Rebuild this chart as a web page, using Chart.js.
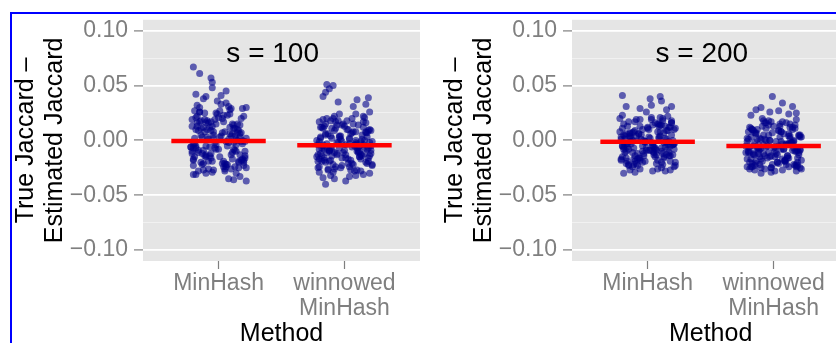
<!DOCTYPE html>
<html><head><meta charset="utf-8">
<script src="https://cdn.jsdelivr.net/npm/chart.js@4"></script>
<style>
html,body{margin:0;padding:0;background:#fff;width:836px;height:343px;overflow:hidden;position:relative}
canvas{position:absolute;top:0}
#c1{left:0}
#c2{left:420px}
#frame{position:absolute;left:10px;top:12px;width:900px;height:400px;border:2px solid #0000ff;box-sizing:border-box;pointer-events:none}
</style></head><body>
<canvas id="c1" width="420" height="343"></canvas>
<canvas id="c2" width="416" height="343"></canvas>
<div id="frame"></div>
<script>
// ---------- data ----------
const categories = [['MinHash'], ['winnowed', 'MinHash']];
const panelTitles = ['s = 100', 's = 200'];
const yAxisTitle = ['True Jaccard \u2013', 'Estimated Jaccard'];
const xAxisTitle = 'Method';
const yMajorTicks = [0.10, 0.05, 0.00, -0.05, -0.10];
const yMajorLabels = ['0.10', '0.05', '0.00', '\u22120.05', '\u22120.10'];
const yMinorTicks = [0.075, 0.025, -0.025, -0.075];

// medians (red bars) per panel: [MinHash, winnowed MinHash]
const medians100 = [-0.0005, -0.0045];
const medians200 = [-0.0013, -0.0050];

// s = 100, MinHash
const mh100Jitter = [-0.20,-0.15,-0.06,-0.05,-0.05,0.06,-0.18,-0.10,0.02,-0.12,
 0.22,0.12,0.08,0.17,-0.18,-0.10,0.14,-0.05,-0.20,0.05,
 -0.17,0.09,-0.02,0.20,-0.11,0.04,0.15,-0.21,0.12,-0.06,
 0.18,-0.14,0.01,-0.08,0.21,-0.19,0.07,-0.03,0.13,-0.16,
 0.10,-0.10,0.19,-0.05,0.03,-0.20,0.16,-0.12,0.06,0.22,
 -0.15,0.00,-0.09,0.17,-0.18,0.11,-0.04,0.08,-0.22,0.14,
 -0.07,0.20,-0.13,0.05,-0.01,0.18,-0.17,0.09,-0.11,0.02,
 0.15,-0.20,0.12,-0.06,0.21,-0.14,0.04,-0.19,0.07,-0.02,
 0.16,-0.09,0.19,-0.16,0.01,-0.12,0.10,-0.21,0.13,-0.04,
 0.06,-0.18,0.17,-0.08,0.22,-0.15,0.03,-0.10,0.11,-0.20,
 0.08,-0.05,0.14,-0.13,0.20,-0.01,-0.17,0.05,-0.07,0.18,
 -0.11,0.12,-0.19,0.00,0.16,-0.14,0.09,-0.03,0.21,-0.16,
 0.02,-0.08,0.13,-0.21,0.07,-0.12,0.19,-0.06,0.10,-0.18,
 0.15,-0.02,0.04,-0.15,0.17,-0.10,0.11,-0.20,0.06,-0.04,
 0.19,-0.07,0.14,-0.20,0.03,-0.13,0.21,-0.04,0.09,-0.16,
 0.12,-0.19,0.06,-0.10,0.17,-0.02,0.20,-0.15,0.08,-0.21,
 -0.03,0.15,-0.18,0.11,-0.08,0.04,-0.14,0.18,-0.11,0.13,
 0.01,-0.17,0.10,-0.22,0.16,-0.06,0.22,-0.12,0.05,-0.09];
const mh100Y = [0.067,0.061,0.057,0.053,0.048,0.045,0.042,0.040,0.041,0.038,
 -0.037,-0.036,-0.035,-0.033,-0.031,-0.030,-0.030,-0.029,-0.031,-0.028,
 0.032,0.028,0.025,0.022,0.019,0.017,0.015,0.013,0.011,0.009,
 0.007,0.005,0.003,0.001,-0.001,-0.003,-0.005,-0.007,-0.009,-0.011,
 -0.013,-0.015,-0.017,-0.019,-0.021,-0.023,-0.025,-0.027,0.034,0.030,
 0.026,0.021,0.018,0.014,0.010,0.006,0.002,-0.002,-0.006,-0.010,
 -0.014,-0.018,-0.022,-0.026,0.024,0.020,0.016,0.012,0.008,0.004,
 0.000,-0.004,-0.008,-0.012,-0.016,-0.020,-0.024,0.027,0.023,0.015,
 0.009,0.003,-0.003,-0.009,-0.015,-0.021,0.029,0.019,0.011,0.005,
 -0.001,-0.007,-0.013,-0.019,-0.025,0.017,0.007,-0.005,-0.011,-0.017,
 0.031,0.013,0.001,-0.012,-0.023,0.036,0.022,0.008,-0.006,-0.018,
 0.025,0.014,0.002,-0.008,-0.020,0.018,0.006,-0.002,-0.014,-0.028,
 0.033,0.016,0.004,-0.010,-0.022,0.012,0.000,-0.016,-0.026,0.021,
 0.010,-0.004,-0.019,0.026,0.003,-0.013,0.015,-0.007,-0.024,0.008,
 0.029,0.012,-0.004,-0.018,0.020,0.003,-0.010,-0.027,0.024,0.009,
 -0.002,-0.015,-0.022,0.016,0.006,-0.008,-0.020,0.030,0.001,-0.012,
 0.019,0.007,-0.005,-0.017,-0.026,0.023,0.011,-0.001,-0.014,-0.024,
 0.027,0.013,0.004,-0.006,-0.019,0.017,0.002,-0.009,-0.021,0.010];

// s = 100, winnowed MinHash
const wm100Jitter = [-0.14,-0.09,-0.12,-0.15,-0.17,0.19,-0.05,0.17,0.10,0.07,
 -0.15,0.01,-0.17,-0.11,-0.08,0.15,0.20,0.09,-0.20,0.04,
 -0.04,0.06,-0.20,0.11,-0.10,0.17,-0.15,0.04,-0.02,0.15,
 -0.18,0.10,-0.06,0.19,-0.12,0.07,-0.21,0.13,-0.08,0.02,
 -0.16,0.21,-0.03,0.09,-0.14,0.16,0.00,-0.19,0.12,-0.11,
 0.18,-0.07,0.05,-0.17,-0.01,0.20,-0.13,0.14,-0.05,0.08,
 -0.20,0.11,-0.10,0.03,-0.15,0.22,-0.08,0.17,-0.18,0.06,
 -0.04,0.13,-0.21,0.10,-0.12,0.01,-0.16,0.19,-0.09,0.16,
 -0.02,0.07,-0.19,0.04,-0.14,0.21,-0.06,0.12,-0.20,0.15,
 0.02,-0.11,0.09,-0.17,0.18,-0.01,0.05,-0.13,0.20,-0.07,
 0.14,-0.22,0.08,-0.04,0.11,-0.18,0.17,-0.09,0.00,-0.15,
 0.22,0.06,-0.12,0.16,-0.20,0.03,-0.05,0.19,-0.10,0.10,
 -0.16,0.13,-0.03,0.07,-0.19,0.21,-0.08,0.01,-0.14,0.18,
 -0.06,0.12,-0.21,0.15,0.04,-0.11,0.20,-0.02,0.09,-0.17,
 -0.09,0.05,-0.12,0.22,-0.06,0.16,-0.22,0.10,-0.17,0.01,
 0.13,-0.11,0.18,-0.14,0.04,-0.08,0.11,-0.18,0.15,-0.03,
 -0.21,0.08,-0.15,0.20,-0.02,0.17,-0.10,0.06,-0.19,0.12,
 -0.16,0.09,-0.04,0.21,-0.13,0.03,-0.20,0.14,-0.07,0.19];
const wm100Y = [0.051,0.050,0.047,0.044,0.040,0.039,0.035,0.033,0.037,0.031,
 -0.040,-0.037,-0.034,-0.032,-0.035,-0.031,-0.030,-0.032,-0.029,-0.033,
 0.024,0.020,0.017,0.014,0.011,0.008,0.005,0.002,-0.001,-0.004,
 -0.007,-0.010,-0.013,-0.016,-0.019,-0.022,-0.025,-0.028,0.022,0.018,
 0.013,0.009,0.004,0.000,-0.003,-0.006,-0.009,-0.012,-0.015,-0.018,
 -0.021,-0.024,-0.027,0.019,0.015,0.010,0.006,0.001,-0.002,-0.005,
 -0.008,-0.011,-0.014,-0.017,-0.020,-0.023,-0.026,0.016,0.012,0.007,
 0.003,-0.001,-0.004,-0.007,-0.010,-0.013,-0.016,-0.019,-0.022,0.021,
 0.014,0.008,0.002,-0.003,-0.006,-0.009,-0.012,-0.015,-0.024,0.017,
 0.010,0.004,-0.002,-0.005,-0.008,-0.011,-0.018,-0.027,0.026,0.011,
 0.005,0.000,-0.004,-0.007,-0.010,-0.014,-0.020,-0.029,0.013,0.006,
 -0.001,-0.006,-0.009,-0.012,-0.017,-0.021,0.018,0.009,0.002,-0.003,
 -0.008,-0.013,-0.025,0.015,0.003,-0.005,-0.011,-0.016,0.020,0.007,
 -0.002,-0.010,-0.019,0.012,0.001,-0.007,-0.014,-0.023,0.008,-0.004,
 0.020,0.006,-0.009,-0.022,0.014,0.000,-0.015,-0.027,0.011,-0.004,
 -0.017,0.018,0.003,-0.011,-0.024,0.009,-0.006,-0.019,0.022,0.001,
 -0.013,-0.028,0.015,-0.002,-0.016,0.007,-0.008,-0.021,0.012,-0.005,
 -0.018,0.024,0.004,-0.012,-0.026,0.010,-0.001,-0.014,0.017,-0.007];

// s = 200, MinHash
const mh200Jitter = [-0.20,0.10,0.02,0.11,-0.17,0.19,0.03,-0.06,-0.01,0.15,
 -0.19,0.04,0.18,-0.06,-0.10,0.11,-0.14,0.08,0.21,0.14,
 0.16,-0.09,0.19,-0.16,0.01,-0.12,0.10,-0.21,0.13,-0.04,
 0.06,-0.18,0.17,-0.08,0.22,-0.15,0.03,-0.10,0.11,-0.20,
 0.08,-0.05,0.14,-0.13,0.20,-0.01,-0.17,0.05,-0.07,0.18,
 -0.11,0.12,-0.19,0.00,0.16,-0.14,0.09,-0.03,0.21,-0.16,
 0.02,-0.08,0.13,-0.21,0.07,-0.12,0.19,-0.06,0.10,-0.18,
 0.15,-0.02,0.04,-0.15,0.17,-0.10,0.11,-0.20,0.06,-0.04,
 -0.17,0.09,-0.02,0.20,-0.11,0.04,0.15,-0.21,0.12,-0.06,
 0.18,-0.14,0.01,-0.08,0.21,-0.19,0.07,-0.03,0.13,-0.16,
 0.10,-0.10,0.19,-0.05,0.03,-0.20,0.16,-0.12,0.06,0.22,
 -0.15,0.00,-0.09,0.17,-0.18,0.11,-0.04,0.08,-0.22,0.14,
 -0.07,0.20,-0.13,0.05,-0.01,0.18,-0.17,0.09,-0.11,0.02,
 0.15,-0.20,0.12,-0.06,0.21,-0.14,0.04,-0.19,0.07,-0.02,
 0.12,-0.19,0.06,-0.10,0.17,-0.02,0.20,-0.15,0.08,-0.21,
 0.01,-0.17,0.10,-0.22,0.16,-0.06,0.22,-0.12,0.05,-0.09,
 0.19,-0.07,0.14,-0.20,0.03,-0.13,0.21,-0.04,0.09,-0.16,
 -0.03,0.15,-0.18,0.11,-0.08,0.04,-0.14,0.18,-0.11,0.13];
const mh200Y = [0.041,0.040,0.038,0.036,0.031,0.031,0.032,0.029,0.026,0.028,
 -0.030,-0.028,-0.027,-0.026,-0.029,-0.025,-0.027,-0.026,-0.024,-0.028,
 0.022,0.019,0.016,0.013,0.010,0.007,0.004,0.001,-0.002,-0.005,
 -0.008,-0.011,-0.014,-0.017,-0.020,-0.023,0.021,0.017,0.014,0.011,
 0.008,0.005,0.002,-0.001,-0.004,-0.007,-0.010,-0.013,-0.016,-0.019,
 -0.022,0.020,0.015,0.012,0.009,0.006,0.003,0.000,-0.003,-0.006,
 -0.009,-0.012,-0.015,-0.018,-0.021,-0.024,0.018,0.013,0.008,0.004,
 0.001,-0.002,-0.005,-0.008,-0.011,-0.014,-0.020,0.023,0.016,0.010,
 0.006,0.002,-0.001,-0.004,-0.007,-0.010,-0.013,-0.017,-0.022,0.019,
 0.012,0.007,0.003,0.000,-0.003,-0.006,-0.009,-0.012,-0.016,-0.019,
 0.014,0.009,0.005,0.001,-0.002,-0.005,-0.008,-0.011,-0.015,-0.023,
 0.017,0.011,0.004,-0.001,-0.004,-0.007,-0.010,-0.018,0.020,0.013,
 0.006,0.000,-0.003,-0.006,-0.009,-0.014,-0.021,0.015,0.008,0.002,
 -0.002,-0.005,-0.012,-0.016,0.010,0.003,-0.004,-0.008,-0.013,-0.019,
 0.018,0.005,-0.007,-0.019,0.012,-0.001,-0.013,-0.022,0.015,0.003,
 -0.009,-0.016,0.021,0.008,-0.004,-0.018,0.011,0.000,-0.011,-0.021,
 0.016,0.006,-0.006,-0.015,0.019,0.002,-0.008,-0.020,0.013,-0.003,
 -0.014,0.009,0.001,-0.010,-0.023,0.014,0.004,-0.005,-0.017,0.007];

// s = 200, winnowed MinHash
const wm200Jitter = [-0.01,0.07,0.15,-0.03,-0.14,0.18,-0.10,0.12,0.04,-0.18,
 0.18,-0.10,0.07,-0.19,-0.02,0.21,-0.15,0.12,0.01,-0.07,
 0.18,-0.07,0.05,-0.17,-0.01,0.20,-0.13,0.14,-0.05,0.08,
 -0.20,0.11,-0.10,0.03,-0.15,0.22,-0.08,0.17,-0.18,0.06,
 -0.04,0.13,-0.21,0.10,-0.12,0.01,-0.16,0.19,-0.09,0.16,
 -0.02,0.07,-0.19,0.04,-0.14,0.21,-0.06,0.12,-0.20,0.15,
 0.02,-0.11,0.09,-0.17,0.18,-0.01,0.05,-0.13,0.20,-0.07,
 0.14,-0.22,0.08,-0.04,0.11,-0.18,0.17,-0.09,0.00,-0.15,
 0.22,0.06,-0.12,0.16,-0.20,0.03,-0.05,0.19,-0.10,0.10,
 -0.16,0.13,-0.03,0.07,-0.19,0.21,-0.08,0.01,-0.14,0.18,
 -0.06,0.12,-0.21,0.15,0.04,-0.11,0.20,-0.02,0.09,-0.17,
 -0.04,0.06,-0.20,0.11,-0.10,0.17,-0.15,0.04,-0.02,0.15,
 -0.18,0.10,-0.06,0.19,-0.12,0.07,-0.21,0.13,-0.08,0.02,
 -0.16,0.21,-0.03,0.09,-0.14,0.16,0.00,-0.19,0.12,-0.11,
 0.13,-0.11,0.18,-0.14,0.04,-0.08,0.11,-0.18,0.15,-0.03,
 -0.16,0.09,-0.04,0.21,-0.13,0.03,-0.20,0.14,-0.07,0.19,
 -0.09,0.05,-0.12,0.22,-0.06,0.16,-0.22,0.10,-0.17,0.01,
 -0.21,0.08,-0.15,0.20,-0.02,0.17,-0.10,0.06,-0.19,0.12];
const wm200Y = [0.040,0.034,0.031,0.026,0.028,0.025,0.030,0.024,0.027,0.023,
 -0.028,-0.030,-0.027,-0.026,-0.029,-0.025,-0.027,-0.024,-0.028,-0.026,
 0.019,0.016,0.013,0.010,0.007,0.004,0.001,-0.002,-0.005,-0.008,
 -0.011,-0.014,-0.017,-0.020,-0.023,-0.026,0.018,0.014,0.011,0.008,
 0.005,0.002,-0.001,-0.004,-0.007,-0.010,-0.013,-0.016,-0.019,-0.022,
 -0.025,0.017,0.012,0.009,0.006,0.003,0.000,-0.003,-0.006,-0.009,
 -0.012,-0.015,-0.018,-0.021,-0.024,-0.022,0.015,0.010,0.005,0.001,
 -0.002,-0.005,-0.008,-0.011,-0.014,-0.017,-0.023,0.020,0.013,0.007,
 0.003,-0.001,-0.004,-0.007,-0.010,-0.013,-0.016,-0.020,-0.025,0.016,
 0.009,0.004,0.000,-0.003,-0.006,-0.009,-0.012,-0.015,-0.019,-0.022,
 0.011,0.006,0.002,-0.002,-0.005,-0.008,-0.011,-0.014,-0.018,-0.024,
 0.014,0.008,0.001,-0.004,-0.007,-0.010,-0.013,-0.021,0.017,0.010,
 0.003,-0.003,-0.006,-0.009,-0.012,-0.017,-0.024,0.012,0.005,-0.001,
 -0.005,-0.008,-0.015,-0.019,0.007,0.000,-0.007,-0.011,-0.016,-0.022,
 0.015,0.002,-0.010,-0.021,0.009,-0.004,-0.016,-0.024,0.012,0.000,
 -0.012,-0.019,0.018,0.005,-0.007,-0.020,0.008,-0.003,-0.014,-0.023,
 0.013,0.003,-0.009,-0.018,0.016,-0.001,-0.011,-0.022,0.010,-0.006,
 -0.017,0.006,-0.002,-0.013,-0.025,0.011,0.001,-0.008,-0.020,0.004];

// ---------- chart construction ----------
const FONT = '"Liberation Sans", Arial, Helvetica, sans-serif';
const Y_RANGE = [-0.11, 0.11];
const X_RANGE_FULL = [0.4, 2.6];     // left panel, complete
const X_RANGE_CROPPED = [0.4, 2.495]; // right panel, cut by the image edge
const BAR_HALF = 0.375;
const TITLE_POS = {x: 1.43, y: 0.0715};
const yTickAll = yMajorTicks.concat(yMinorTicks);
const isMajor = v => yMajorTicks.some(t => Math.abs(t - v) < 1e-9);
const majorLabel = v => { const i = yMajorTicks.findIndex(t => Math.abs(t - v) < 1e-9); return i >= 0 ? yMajorLabels[i] : ''; };

const panelPlugin = {
  id: 'panel',
  beforeDraw(chart) {
    const a = chart.chartArea, c = chart.ctx;
    c.save(); c.fillStyle = '#e5e5e5';
    c.fillRect(a.left, a.top, a.right - a.left, a.bottom - a.top);
    c.restore();
  },
  afterDraw(chart, args, opts) {
    const a = chart.chartArea, c = chart.ctx;
    const xs = chart.scales.x, ys = chart.scales.y;
    c.save();
    c.fillStyle = '#000';
    c.textAlign = 'center';
    c.textBaseline = 'alphabetic';
    c.font = '28px ' + FONT;
    c.fillText(opts.title, xs.getPixelForValue(TITLE_POS.x), ys.getPixelForValue(TITLE_POS.y));
    c.font = '25px ' + FONT;
    c.fillText(xAxisTitle, xs.getPixelForValue(1.5), 341);
    const cy = (a.top + a.bottom) / 2;
    [[yAxisTitle[0], a.left - 110], [yAxisTitle[1], a.left - 81]].forEach(([t, bx]) => {
      c.save(); c.translate(bx, cy); c.rotate(-Math.PI / 2);
      c.fillText(t, 0, 0); c.restore();
    });
    c.restore();
  }
};

function makeChart(id, title, groups, medians, yWidth, xRange) {
  const datasets = [];
  medians.forEach((m, i) => {
    datasets.push({
      data: [{x: i + 1 - BAR_HALF, y: m}, {x: i + 1 + BAR_HALF, y: m}],
      showLine: true, borderColor: '#ff0000', borderWidth: 4.5, borderCapStyle: 'butt',
      pointRadius: 0, order: 0
    });
  });
  groups.forEach(([jit, ys], i) => {
    datasets.push({
      data: jit.map((j, k) => ({x: i + 1 + j, y: ys[k]})),
      backgroundColor: 'rgba(0,0,139,0.6)', borderWidth: 0, pointRadius: 3.5, order: 1
    });
  });
  return new Chart(document.getElementById(id), {
    type: 'scatter',
    data: {datasets},
    plugins: [panelPlugin],
    options: {
      responsive: false, animation: false, events: [],
      layout: {autoPadding: false, padding: {top: 16, right: 0, left: 0, bottom: 0}},
      plugins: {legend: {display: false}, tooltip: {enabled: false}, panel: {title}},
      scales: {
        x: {
          type: 'linear', min: xRange[0], max: xRange[1],
          afterBuildTicks: s => { s.ticks = [{value: 1}, {value: 2}]; },
          afterFit: s => { s.height = 82; },
          ticks: {color: '#7f7f7f', font: {family: FONT, size: 23, lineHeight: 25 / 23},
                  padding: 2, maxRotation: 0, autoSkip: false,
                  callback: v => categories[Math.round(v) - 1]},
          grid: {drawOnChartArea: false, drawTicks: true, tickLength: 8, tickColor: '#7f7f7f', tickWidth: 1.2},
          border: {display: false}
        },
        y: {
          type: 'linear', min: Y_RANGE[0], max: Y_RANGE[1],
          afterBuildTicks: s => { s.ticks = yTickAll.map(v => ({value: v})); },
          afterFit: s => { s.width = yWidth; },
          ticks: {color: '#7f7f7f', font: {family: FONT, size: 23}, padding: 6, autoSkip: false,
                  callback: v => majorLabel(v)},
          grid: {
            color: ctx => isMajor(ctx.tick.value) ? '#ffffff' : '#f2f2f2',
            lineWidth: ctx => isMajor(ctx.tick.value) ? 1.8 : 0.9,
            tickColor: ctx => isMajor(ctx.tick.value) ? '#7f7f7f' : 'rgba(0,0,0,0)',
            tickLength: 9, tickWidth: 1.2, drawTicks: true
          },
          border: {display: false}
        }
      }
    }
  });
}

makeChart('c1', panelTitles[0], [[mh100Jitter, mh100Y], [wm100Jitter, wm100Y]], medians100, 143, X_RANGE_FULL);
makeChart('c2', panelTitles[1], [[mh200Jitter, mh200Y], [wm200Jitter, wm200Y]], medians200, 152, X_RANGE_CROPPED);
</script>
</body></html>
